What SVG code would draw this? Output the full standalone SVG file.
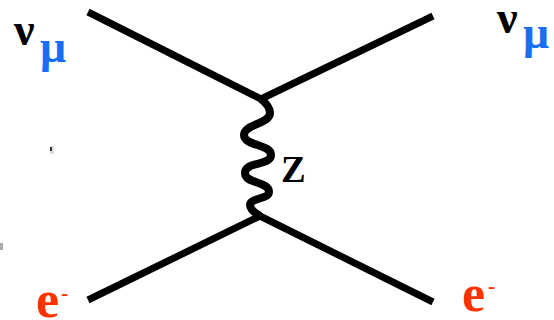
<svg xmlns="http://www.w3.org/2000/svg" width="554" height="320" viewBox="0 0 554 320">
<style>
.line{stroke:#000;stroke-width:7;fill:none;stroke-linecap:butt}
.wave{stroke:#000;stroke-width:8;fill:none}
.nu{font-family:"Liberation Serif",serif;font-weight:bold;fill:#000}
.mu{font-family:"Liberation Serif",serif;font-weight:bold;fill:#1a6ef5}
.e{font-family:"Liberation Serif",serif;font-weight:bold;fill:#ff3300}
</style>
<rect width="554" height="320" fill="#fff"/>
<g id="connectors">
<line class="line" x1="88" y1="12" x2="261" y2="99"/>
<line class="line" x1="261" y1="99" x2="433" y2="16"/>
<line class="line" x1="88" y1="300" x2="260" y2="216"/>
<line class="line" x1="260" y1="216" x2="433" y2="302"/>
<path class="wave" d="M261 99 C266 103,270 107,270 113 C270 124,244 124,244 135 C244 146,271 144,271 155 C271 166,245 161,245 173 C245 184,269 181,269 192 C269 199,250 198,250 205 C250 209,255 213,260 216"/>
</g>
<g id="numu-in"><text class="nu" x="14" y="45" font-size="46">ν</text><text class="mu" x="40" y="62" font-size="46">μ</text></g>
<g id="numu-out"><text class="nu" x="497" y="33" font-size="46">ν</text><text class="mu" x="523" y="48" font-size="46">μ</text></g>
<g id="e-in"><text class="e" x="36" y="317" font-size="52">e</text><text class="e" x="61" y="300" font-size="22">-</text></g>
<g id="e-out"><text class="e" x="462" y="311" font-size="52">e</text><text class="e" x="488" y="293" font-size="22">-</text></g>
<g id="z-label"><text class="nu" x="281" y="182" font-size="37">Z</text></g>
<rect x="50" y="146" width="4" height="8" fill="#ddd"/><rect x="50" y="147" width="2" height="4" fill="#333"/>
<rect x="0" y="243" width="3" height="7" fill="#aaa"/>
</svg>
